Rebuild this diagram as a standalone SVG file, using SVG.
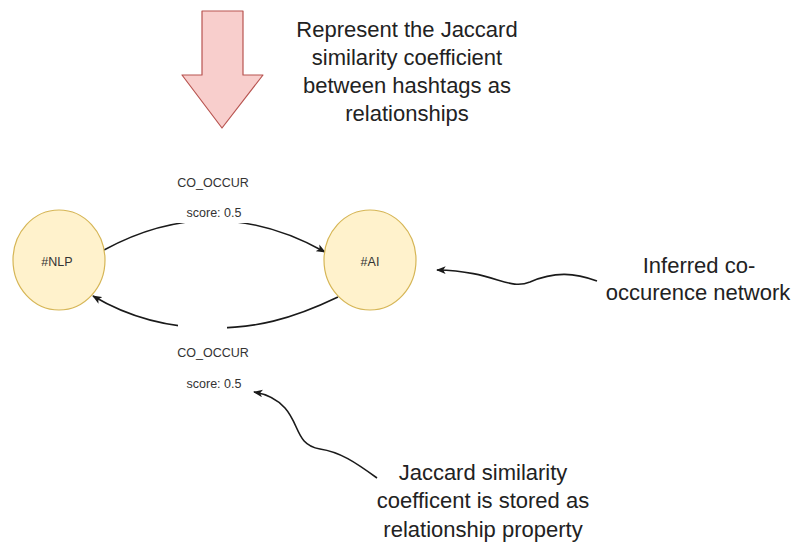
<svg xmlns="http://www.w3.org/2000/svg" width="793" height="544" viewBox="0 0 793 544">
  <style>
    .node { fill: #fff2cc; stroke: #d6b656; stroke-width: 1.2; }
    .small { font-family: "Liberation Sans", Arial, sans-serif; font-size: 12.5px; fill: #333; text-anchor: middle; }
    .big { font-family: "Liberation Sans", Arial, sans-serif; font-size: 22px; fill: #222; text-anchor: middle; }
    .edge { fill: none; stroke: #1a1a1a; stroke-width: 1.6; marker-end: url(#arrow); }
    .note { fill: none; stroke: #1a1a1a; stroke-width: 1.6; marker-end: url(#arrow); }
  </style>
  <defs>
    <marker id="arrow" viewBox="0 0 10 8" refX="9" refY="4" markerWidth="6" markerHeight="5" orient="auto" markerUnits="strokeWidth">
      <path d="M0,0 L10,4 L0,8 L2.5,4 z" fill="#1a1a1a"/>
    </marker>
  </defs>
  <rect width="793" height="544" fill="#ffffff"/>

  <!-- big downward block arrow -->
  <g id="block-arrow">
    <path d="M202,11 L243,11 L243,75 L263,75 L222,128 L182,75 L202,75 Z" fill="#f8cecc" stroke="#b85450" stroke-width="1.2" stroke-linejoin="round"/>
  </g>

  <g id="title">
    <text class="big" x="407" y="37">Represent the Jaccard</text>
    <text class="big" x="407" y="65">similarity coefficient</text>
    <text class="big" x="407" y="93">between hashtags as</text>
    <text class="big" x="407" y="121">relationships</text>
  </g>

  <!-- connectors -->
  <g id="connectors">
    <path class="edge" d="M104,250 Q214,190 325,252"/>
    <path class="edge" d="M338,297 C290,320 255,328 213,328 C170,328 130,318 93,296"/>
    <path class="note" d="M597,281 C575,273 555,271 530,282 C508,291 495,271 437,270"/>
    <path class="note" d="M377,478 C355,462 340,452 320,449 C296,445 300,425 285,408 C276,398 266,394 254,392"/>
  </g>

  <!-- edge labels with background -->
  <g id="edge-labels">
    <rect x="177" y="205" width="75" height="18" fill="#ffffff"/>
    <rect x="178" y="318" width="49" height="18" fill="#ffffff"/>
    <text class="small" x="213" y="187">CO_OCCUR</text>
    <text class="small" x="214" y="217">score: 0.5</text>
    <text class="small" x="213" y="357">CO_OCCUR</text>
    <text class="small" x="214" y="388">score: 0.5</text>
  </g>

  <g id="node-nlp">
    <ellipse class="node" cx="59" cy="260" rx="46" ry="50"/>
    <text class="small" x="57" y="266">#NLP</text>
  </g>

  <g id="node-ai">
    <ellipse class="node" cx="370" cy="260" rx="46" ry="50"/>
    <text class="small" x="370" y="266">#AI</text>
  </g>

  <g id="note-network">
    <text class="big" x="699" y="273">Inferred co-</text>
    <text class="big" x="698" y="300">occurence network</text>
  </g>

  <g id="note-property">
    <text class="big" x="483" y="480">Jaccard similarity</text>
    <text class="big" x="483" y="508">coefficent is stored as</text>
    <text class="big" x="483" y="537">relationship property</text>
  </g>
</svg>
